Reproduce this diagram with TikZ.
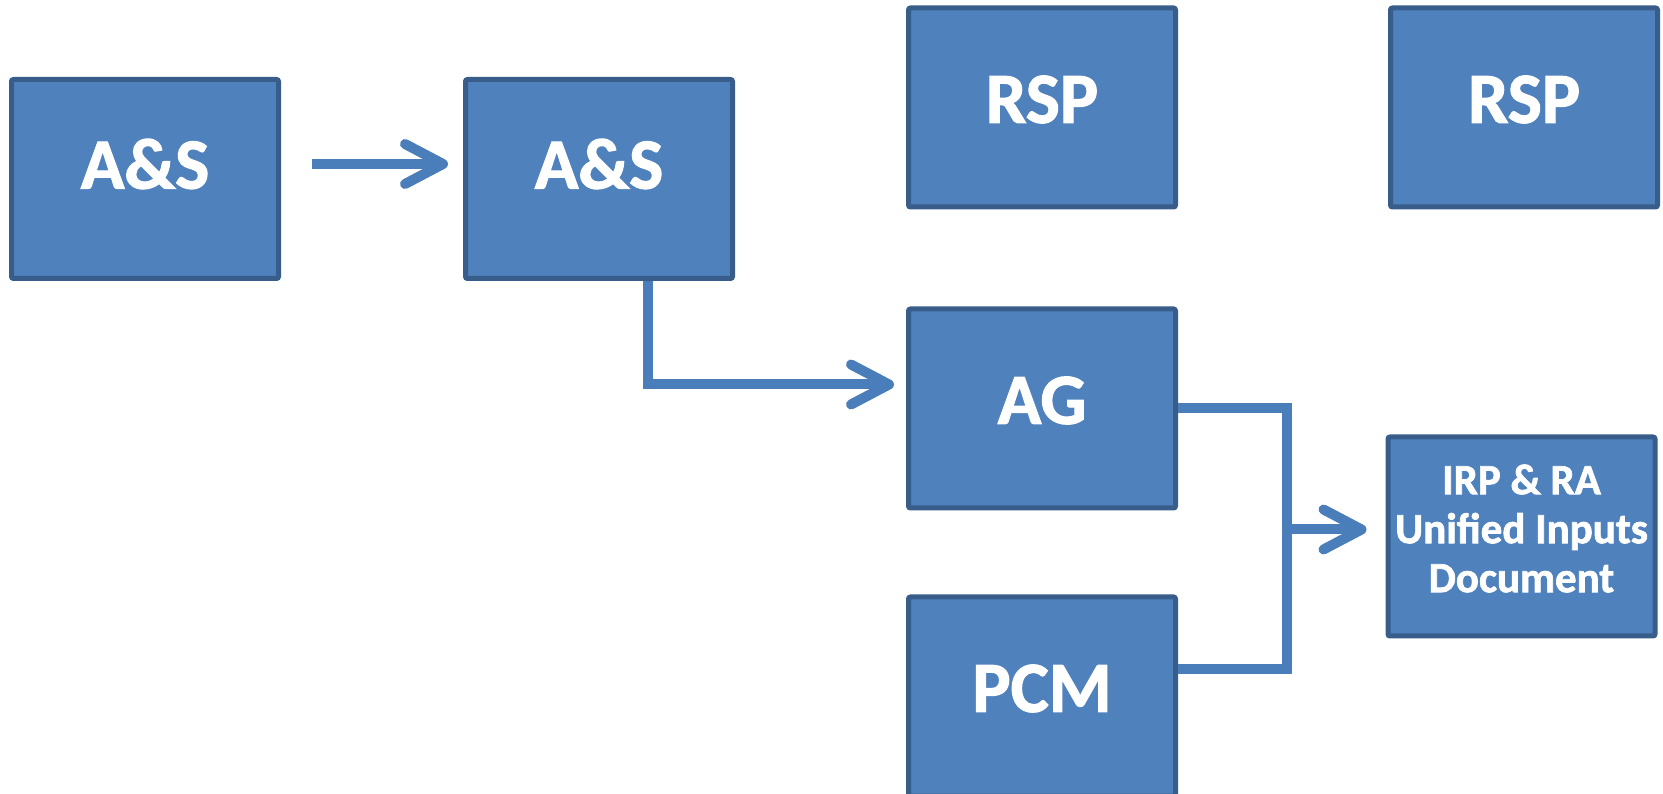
\documentclass[tikz,border=0pt]{standalone}
\usepackage{fontspec}
\setmainfont{Carlito}[BoldFeatures={FakeBold=1.6}]
\usepackage{tikz}
\usetikzlibrary{arrows.meta, positioning}
\definecolor{boxfill}{HTML}{4F81BD}
\definecolor{boxline}{HTML}{385D8A}
\definecolor{flow}{HTML}{4A7EBB}

\begin{document}
\begin{tikzpicture}[
  x=1pt, y=1pt,
  box/.style={rectangle, draw=boxline, fill=boxfill, line width=5pt, rounded corners=2pt, minimum width=267pt, minimum height=199pt, inner sep=0pt},
  tag/.style={text=white, font=\bfseries\fontsize{72}{80}\selectfont, inner sep=0pt},
  smalltag/.style={text=white, font=\bfseries\fontsize{43}{49}\selectfont, align=center, inner sep=0pt},
  link/.style={draw=flow, line width=10pt},
  arrow/.style={link, -{Straight Barb[length=38pt, width=40pt, round]}}
]
  \useasboundingbox (0,0) rectangle (1663,793);

  % boxes
  \node[box] at (145,614) (as1) {};
  \node[box, right=182pt of as1] (as2) {};
  \node[box] at (1042,384.5) (ag) {};
  \node[box, above=97pt of ag] (rsp1) {};
  \node[box, right=210pt of rsp1] (rsp2) {};
  \node[box, below=84pt of ag] (pcm) {};
  \node[box] at (1521.5,256.5) (irp) {};

  % labels
  \node[tag] at ([yshift=15pt]as1.center) (as1txt) {A\&S};
  \node[tag] at ([yshift=15pt]as2.center) (as2txt) {A\&S};
  \node[tag] at ([yshift=8pt]rsp1.center) (rsp1txt) {RSP};
  \node[tag] at ([yshift=8pt]rsp2.center) (rsp2txt) {RSP};
  \node[tag] at ([yshift=8pt]ag.center) (agtxt) {AG};
  \node[tag] at ([yshift=8pt]pcm.center) (pcmtxt) {PCM};
  \node[smalltag] at ([yshift=8pt]irp.center) (irptxt) {IRP \& RA\\Unified Inputs\\Document};

  % connectors
  \draw[arrow] ([xshift=31pt,yshift=15pt]as1.east) -- ([xshift=-15pt,yshift=15pt]as2.west);
  \draw[arrow] ([xshift=49pt]as2.south) |- ([xshift=-12pt,yshift=24pt]ag.west);

  \coordinate (bus) at ([xshift=109pt]ag.east);
  \coordinate (irpin) at ([xshift=-19pt,yshift=7pt]irp.west);
  \draw[link] (ag.east) -- (bus) |- ([yshift=27pt]pcm.east);
  \draw[arrow] (bus |- irpin) -- (irpin);
\end{tikzpicture}
\end{document}
